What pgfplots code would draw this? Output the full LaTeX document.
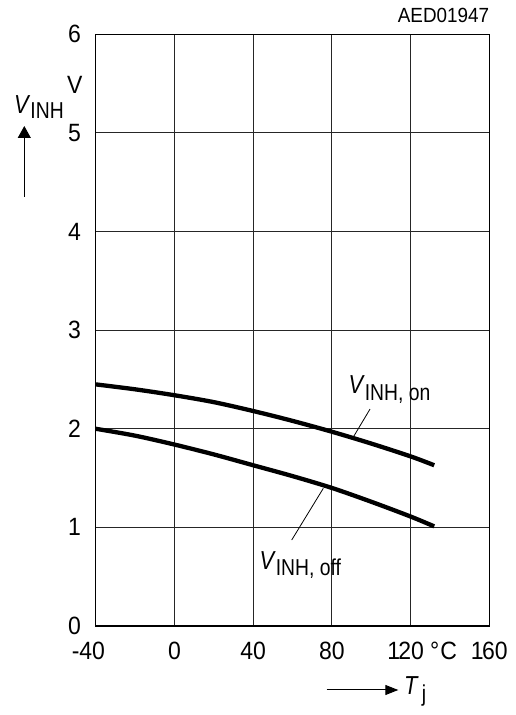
\documentclass[border=0pt]{standalone}
\usepackage{fontspec}
\setmainfont{Liberation Sans}[FakeStretch=0.84]
\newfontfamily\tickfam{Liberation Sans}[FakeStretch=0.92]
\usepackage{pgfplots}
\pgfplotsset{compat=1.18}
\usetikzlibrary{arrows.meta}
\newcommand\tfont{\fontsize{23bp}{27bp}\selectfont}
\newcommand\nfont{\tickfam\fontsize{25bp}{29bp}\selectfont}
\newcommand\bigv{{\fontsize{26bp}{30bp}\selectfont\itshape V\/}}
\begin{document}
\begin{tikzpicture}[x=1bp,y=1bp]
\path[use as bounding box] (0,0) rectangle (516,715);
\begin{axis}[at={(95.7bp,89bp)}, anchor=south west, scale only axis,
  width=393.6bp, height=591.7bp,
  xmin=-40, xmax=160, ymin=0, ymax=6,
  xtick={-40,0,40,80,120,160},
  xticklabels={\llap{-}40\hspace*{7bp},0,40,80,1\kern-0.07em 20\hspace*{10bp},1\kern-0.07em 60},
  ytick={0,1,2,3,4,5,6},
  grid=major, major grid style={black!85, line width=0.9bp},
  axis line style={line width=1.1bp},
  major tick length=0pt,
  tick label style={font=\nfont, inner sep=0pt},
  /pgf/number format/assume math mode=true,
  x tick label style={anchor=base, yshift=-34bp},
  y tick label style={anchor=east, xshift=-14.7bp},
  clip=false]
\addplot[black, line width=4.3bp, smooth, line cap=butt] coordinates {
(-40,2.45) (-20,2.40) (0,2.34) (20,2.27) (40,2.18) (60,2.08) (80,1.97) (100,1.85) (120,1.72) (132,1.63)};
\addplot[black, line width=4.3bp, smooth, line cap=butt] coordinates {
(-40,2.00) (-20,1.93) (0,1.84) (20,1.74) (40,1.63) (60,1.52) (80,1.40) (100,1.26) (120,1.11) (132,1.01)};
\draw[black, line width=0.8bp] (axis cs:99.4,2.20) -- (axis cs:90.6,1.906);
\draw[black, line width=0.8bp] (axis cs:59.6,0.872) -- (axis cs:75.65,1.396);
\end{axis}
\node[anchor=base west, inner sep=0pt, font=\nfont] at (430,55) {°\kern1bp C};
\node[anchor=base west, inner sep=0pt, font=\nfont] at (67,621) {V};
\node[anchor=base east, inner sep=0pt, font=\tickfam\fontsize{20.5bp}{24bp}\selectfont] at (489.3,692.3) {AED01947};
\node[anchor=base west, inner sep=0pt] at (14,601.7) {\bigv\raisebox{-5bp}{\tfont INH}};
\node[anchor=base west, inner sep=0pt] at (348.3,321.7) {\bigv\raisebox{-7.5bp}{\tfont INH, on}};
\node[anchor=base west, inner sep=0pt] at (259.3,145.7) {\bigv\raisebox{-6.7bp}{\tfont INH, off}};
\node[anchor=base west, inner sep=0pt] at (404,20) {{\fontsize{26bp}{30bp}\selectfont\itshape T\/}\hspace{3bp}\raisebox{-7bp}{\tfont j}};
\draw[line width=1bp, -{Triangle[length=13bp,width=10bp]}] (326.7,25) -- (398.3,25);
\draw[line width=1bp, -{Triangle[length=12bp,width=13bp]}] (24.3,518.3) -- (24.3,589);
\end{tikzpicture}
\end{document}
